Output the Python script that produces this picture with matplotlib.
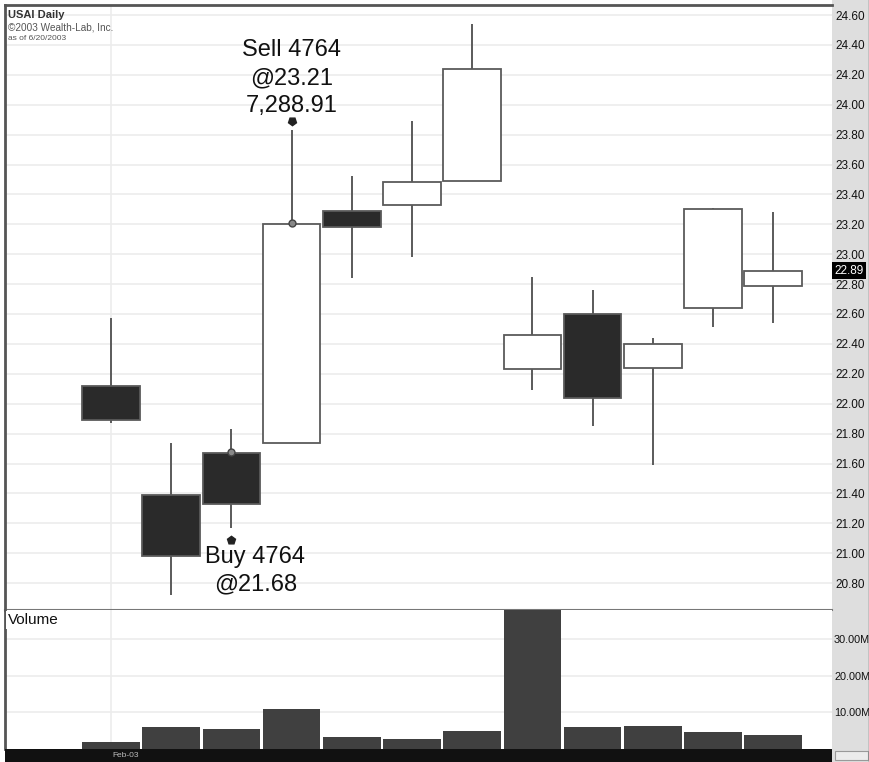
import numpy as np
import matplotlib
matplotlib.use("Agg")
import matplotlib.pyplot as plt
from matplotlib.patches import Rectangle
from matplotlib.lines import Line2D
from matplotlib.ticker import FixedLocator, FuncFormatter
import matplotlib.transforms as mtransforms

plt.rcParams['font.family'] = ['Liberation Sans', 'DejaVu Sans']

# ---------------- data ----------------
symbol_title = "USAI Daily"
copyright_text = "\u00a92003 Wealth-Lab, Inc."
asof_text = "as of 6/20/2003"
date_label = "Feb-03"
date_label_index = 0

opens = [22.12, 21.39, 21.67, 21.74, 23.29, 23.33, 23.49, 22.23, 22.60, 22.24, 22.64, 22.79]
highs = [22.57, 21.74, 21.83, 23.83, 23.52, 23.89, 24.54, 22.85, 22.76, 22.44, 23.31, 23.28]
lows = [21.87, 20.72, 21.17, 21.74, 22.84, 22.98, 23.49, 22.09, 21.85, 21.59, 22.51, 22.54]
closes = [21.89, 20.98, 21.33, 23.20, 23.18, 23.48, 24.24, 22.46, 22.04, 22.40, 23.30, 22.89]
volumes_m = [2.0, 6.1, 5.4, 10.9, 3.35, 2.7, 5.0, 45.0, 6.1, 6.35, 4.6, 3.7]

price_ticks = [20.80, 21.00, 21.20, 21.40, 21.60, 21.80, 22.00, 22.20, 22.40, 22.60,
               22.80, 23.00, 23.20, 23.40, 23.60, 23.80, 24.00, 24.20, 24.40, 24.60]
volume_ticks_m = [10, 20, 30]
last_price = 22.89

buy_index, buy_shares, buy_price = 2, 4764, 21.68
sell_index, sell_shares, sell_price, sell_profit = 3, 4764, 23.21, "7,288.91"

# ---------------- layout ----------------
FW, FH = 870, 762
fig = plt.figure(figsize=(FW / 100, FH / 100), dpi=100)
fig.patch.set_facecolor('white')

L = 5 / FW
W = 827 / FW
ax = fig.add_axes([L, (FH - 610) / FH, W, 605 / FH])
axv = fig.add_axes([L, 13 / FH, W, 139 / FH])
axb = fig.add_axes([L, 0, W, 13 / FH])

# gray label area on the right
fig.add_artist(Rectangle((832 / FW, 0), 38 / FW, 1, transform=fig.transFigure,
                         facecolor='#dedede', edgecolor='none', zorder=-5))
fig.add_artist(Rectangle((835 / FW, 2 / FH), 33 / FW, 9 / FH, transform=fig.transFigure,
                         facecolor='#ececec', edgecolor='#9a9a9a', lw=0.8, zorder=-4))
fig.add_artist(Line2D([869.5 / FW] * 2, [0, 1], transform=fig.transFigure, color='#555', lw=1))

n = len(opens)
x = np.arange(n)
xlim = (-106 / 60.2, -106 / 60.2 + 827 / 60.2)
grid_c = '#ececec'
edge_c = '#5a5a5a'

# ---------------- price panel ----------------
ax.set_xlim(*xlim)
ax.set_ylim(24.6 - 595 / 149.5, 24.6 + 10 / 149.5)
for t in price_ticks:
    ax.axhline(t, color=grid_c, lw=1.2, zorder=0)
ax.axvline(date_label_index, color=grid_c, lw=1.2, zorder=0)

bw = 0.96
for i in range(n):
    o, h, l, c = opens[i], highs[i], lows[i], closes[i]
    ax.vlines(x[i], l, h, color=edge_c, lw=1.4, zorder=2)
    lo, hi = min(o, c), max(o, c)
    fc = 'white' if c >= o else '#2a2a2a'
    ax.bar(x[i], hi - lo, bottom=lo, width=bw, facecolor=fc, edgecolor=edge_c,
           lw=1.3, zorder=3)

ax.yaxis.tick_right()
ax.set_yticks(price_ticks)
ax.yaxis.set_major_formatter(FuncFormatter(lambda v, p: f"{v:.2f}"))
ax.tick_params(axis='y', length=0, pad=2.5, labelsize=8.5, labelcolor='#111')
ax.set_xticks([])
for s in ['left', 'top']:
    ax.spines[s].set_color('#555')
    ax.spines[s].set_linewidth(2)
ax.spines['right'].set_visible(False)
ax.spines['bottom'].set_color('#777')
ax.spines['bottom'].set_linewidth(1.5)

# last price box
ax.annotate(f"{last_price:.2f}", xy=(1, last_price), xycoords=('axes fraction', 'data'),
            xytext=(2.5, 0), textcoords='offset pixels', ha='left', va='center',
            color='white', fontsize=8.5,
            bbox=dict(boxstyle='square,pad=0.2', facecolor='black', edgecolor='none'),
            zorder=10, annotation_clip=False)

# header
ax.annotate(symbol_title, xy=(0, 1), xycoords='axes fraction', xytext=(3, -10),
            textcoords='offset pixels', ha='left', va='center', fontsize=8,
            fontweight='bold', color='#333')
ax.annotate(copyright_text, xy=(0, 1), xycoords='axes fraction', xytext=(3, -23),
            textcoords='offset pixels', ha='left', va='center', fontsize=7.2, color='#555')
ax.annotate(asof_text, xy=(0, 1), xycoords='axes fraction', xytext=(3, -34),
            textcoords='offset pixels', ha='left', va='center', fontsize=6, color='#555')

# trade markers
ax.plot([buy_index], [buy_price], 'o', ms=5, mfc='#888', mec='#444', mew=1, zorder=6)
ax.plot([sell_index], [sell_price], 'o', ms=5, mfc='#888', mec='#444', mew=1, zorder=6)

t_buy = mtransforms.offset_copy(ax.transData, fig=fig, x=0, y=-12, units='dots')
ax.plot([buy_index], [lows[buy_index]], marker=(5, 0, 0), ms=6, color='#222',
        transform=t_buy, zorder=6)
t_sell = mtransforms.offset_copy(ax.transData, fig=fig, x=0, y=9, units='dots')
ax.plot([sell_index], [highs[sell_index]], marker=(5, 0, 180), ms=6, color='#222',
        transform=t_sell, zorder=6)

ax.annotate(f"Buy {buy_shares}\n@{buy_price:.2f}", xy=(buy_index, lows[buy_index]),
            xytext=(24, -43), textcoords='offset pixels', ha='center', va='center',
            fontsize=17, linespacing=1.33, color='#111', zorder=7)
ax.annotate(f"Sell {sell_shares}\n@{sell_price:.2f}\n{sell_profit}",
            xy=(sell_index, highs[sell_index]), xytext=(0, 52),
            textcoords='offset pixels', ha='center', va='center',
            fontsize=17, linespacing=1.36, color='#111', zorder=7)

# ---------------- volume panel ----------------
axv.set_xlim(*xlim)
axv.set_ylim(0, 139 / 3.67)
for t in volume_ticks_m:
    axv.axhline(t, color=grid_c, lw=1.2, zorder=0)
axv.axvline(date_label_index, color=grid_c, lw=1.2, zorder=0)
axv.bar(x, volumes_m, width=0.96, color='#404040', edgecolor='none', zorder=2)
axv.yaxis.tick_right()
axv.yaxis.set_major_locator(FixedLocator(volume_ticks_m))
axv.yaxis.set_major_formatter(FuncFormatter(lambda v, p: f"{v:.2f}M"))
axv.tick_params(axis='y', length=0, pad=1.5, labelsize=7.8, labelcolor='#111')
axv.set_xticks([])
axv.spines['top'].set_visible(False)
axv.spines['right'].set_visible(False)
axv.spines['bottom'].set_visible(False)
axv.spines['left'].set_color('#555')
axv.spines['left'].set_linewidth(2)
axv.annotate("Volume", xy=(0, 1), xycoords='axes fraction', xytext=(3, -10),
             textcoords='offset pixels', ha='left', va='center', fontsize=11,
             color='#111', bbox=dict(boxstyle='square,pad=0.1', facecolor='white',
                                     edgecolor='none'), zorder=8)

# ---------------- date strip ----------------
axb.set_xlim(*xlim)
axb.set_ylim(0, 1)
axb.set_facecolor('#111111')
axb.set_xticks([])
axb.set_yticks([])
for s in axb.spines.values():
    s.set_visible(False)
axb.annotate(date_label, xy=(date_label_index, 0.5), xytext=(1, 0),
             textcoords='offset pixels', ha='left', va='center', fontsize=6, color='#bbbbbb')

fig.savefig("out.png", dpi=100)
